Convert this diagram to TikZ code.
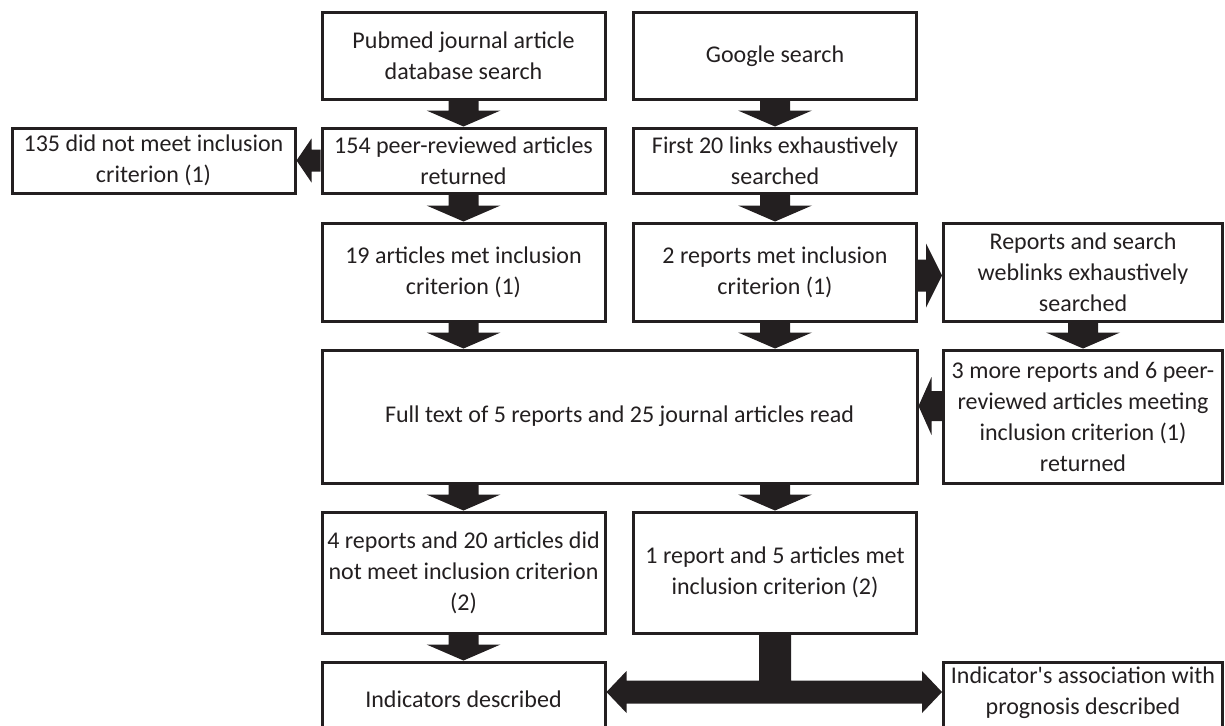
\documentclass[tikz,border=0pt]{standalone}
\usepackage{fontspec}
\setmainfont{Carlito}[Ligatures=TeXOff]
\usetikzlibrary{calc}
\definecolor{ink}{HTML}{231F20}
\tikzset{
  box/.style={draw=ink, line width=3pt, inner sep=0pt, align=center, text=ink,
    font=\fontsize{24}{31}\selectfont, minimum width=283pt},
  wide/.style={minimum width=595pt},
  blk/.style={fill=ink},
  txt/.style={inner sep=0pt, align=center, text=ink, font=\fontsize{24}{31}\selectfont},
}
% vertical block arrow: source, target, node giving x
\newcommand\dnarrow[3]{%
  \fill[blk] let \p1=(#1.south), \p2=(#2.north), \p3=(#3.center) in
   ({\x3-15pt},{\y1}) -- ({\x3+15pt},{\y1}) -- ({\x3+15pt},{\y2+16pt}) -- ({\x3+37pt},{\y2+16pt})
   -- ({\x3},{\y2}) -- ({\x3-37pt},{\y2+16pt}) -- ({\x3-15pt},{\y2+16pt}) -- cycle;}
% right-pointing block arrow: source(left), target(right), y offset from target centre, shaft half, head half, head length
\newcommand\rtarrow[6]{%
  \fill[blk] let \p1=(#1.east), \p2=(#2.west) in
   ({\x1},{\y2+(#3)+#4}) -- ({\x2-#6},{\y2+(#3)+#4}) -- ({\x2-#6},{\y2+(#3)+#5}) -- ({\x2},{\y2+(#3)})
   -- ({\x2-#6},{\y2+(#3)-#5}) -- ({\x2-#6},{\y2+(#3)-#4}) -- ({\x1},{\y2+(#3)-#4}) -- cycle;}
% left-pointing block arrow: source(right), target(left), y offset from source centre, shaft half, head half, head length
\newcommand\ltarrow[6]{%
  \fill[blk] let \p1=(#1.west), \p2=(#2.east) in
   ({\x1},{\y1+(#3)+#4}) -- ({\x2+#6},{\y1+(#3)+#4}) -- ({\x2+#6},{\y1+(#3)+#5}) -- ({\x2},{\y1+(#3)})
   -- ({\x2+#6},{\y1+(#3)-#5}) -- ({\x2+#6},{\y1+(#3)-#4}) -- ({\x1},{\y1+(#3)-#4}) -- cycle;}
\begin{document}
\begin{tikzpicture}[x=1pt,y=-1pt]
\useasboundingbox (0,0) rectangle (1225,725);
\clip (0,0) rectangle (1225,725);
% row 1
\node[box, minimum height=86pt] (pubmed) at (463.5,56) {Pubmed journal article\\database search};
\node[box, minimum height=86pt] (google) at (775,56) {Google search};
% row 2
\node[box, minimum height=65pt] (excl) at (153.5,160.5) {135 did not meet inclusion\\criterion (1)};
\node[box, minimum height=65pt] (peer) at (463.5,160.5) {154 peer-reviewed articles\\returned};
\node[box, minimum height=65pt] (first) at (775,160.5) {First 20 links exhaustively\\searched};
% row 3
\node[box, minimum height=98pt] (met19) at (463.5,272) {19 articles met inclusion\\criterion (1)};
\node[box, minimum height=98pt] (rep2) at (775,272) {2 reports met inclusion\\criterion (1)};
\node[box, minimum height=98pt, minimum width=279pt] (web) at (1083,272) {Reports and search\\weblinks exhaustively\\searched};
% row 4
\node[box, wide, minimum height=133pt] (full) at (619.5,416.5) {Full text of 5 reports and 25 journal articles read};
\node[box, minimum height=133pt, minimum width=279pt] (more) at (1083,416.5) {3 more reports and 6 peer-\\reviewed articles meeting\\inclusion criterion (1)\\returned};
% row 5
\node[box, minimum height=121pt] (notmet) at (463.5,572.5) {4 reports and 20 articles did\\not meet inclusion criterion\\(2)};
\node[box, minimum height=121pt] (met2) at (775,572.5) {1 report and 5 articles met\\inclusion criterion (2)};
% row 6
\node[box, minimum height=74pt] (indic) at (463.5,699) {Indicators described};
\node[box, minimum height=74pt, minimum width=279pt] (assoc) at (1083,699) {};
\node[txt] (assoctxt) at ([yshift=6.5pt]assoc.center) {Indicator's association with\\prognosis described};
% arrows
\dnarrow{pubmed}{peer}{peer}
\dnarrow{peer}{met19}{met19}
\dnarrow{google}{first}{first}
\dnarrow{first}{rep2}{rep2}
\dnarrow{met19}{full}{met19}
\dnarrow{rep2}{full}{rep2}
\dnarrow{web}{more}{web}
\dnarrow{full}{notmet}{notmet}
\dnarrow{full}{met2}{met2}
\dnarrow{notmet}{indic}{indic}
\ltarrow{peer}{excl}{0pt}{11pt}{22pt}{15pt}
\rtarrow{rep2}{web}{-3.5pt}{16pt}{32pt}{16pt}
\ltarrow{more}{full}{10.5pt}{15pt}{29pt}{13pt}
\fill[blk] let \p1=(met2.south), \p2=(indic.east), \p3=(assoc.west), \n1={\y1-57.5pt} in
  ({\x1-16pt},{\y1}) -- ({\x1-16pt},{\n1+11.5pt}) -- ({\x2+20pt},{\n1+11.5pt}) -- ({\x2+20pt},{\n1+21pt})
  -- ({\x2},{\n1}) -- ({\x2+20pt},{\n1-21pt}) -- ({\x2+20pt},{\n1-11.5pt}) -- ({\x3-20pt},{\n1-11.5pt})
  -- ({\x3-20pt},{\n1-21pt}) -- ({\x3},{\n1}) -- ({\x3-20pt},{\n1+21pt}) -- ({\x3-20pt},{\n1+11.5pt})
  -- ({\x1+16pt},{\n1+11.5pt}) -- ({\x1+16pt},{\y1}) -- cycle;
\end{tikzpicture}
\end{document}
